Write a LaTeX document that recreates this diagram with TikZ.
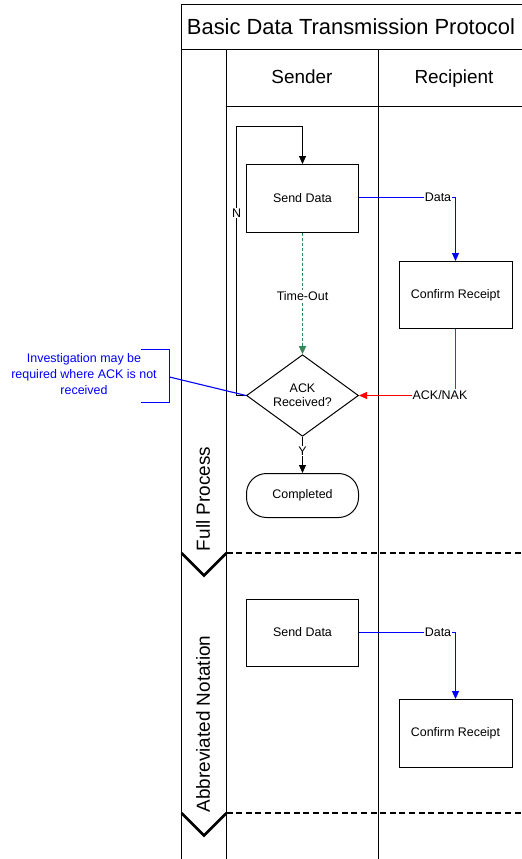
\documentclass[tikz,border=0pt]{standalone}
\usepackage{fontspec}
\setmainfont{Liberation Sans}
\usetikzlibrary{arrows.meta,shapes.geometric}
\definecolor{lnblue}{RGB}{0,0,255}
\definecolor{lnred}{RGB}{255,0,0}
\definecolor{lngreen}{RGB}{46,139,87}
\begin{document}
\begin{tikzpicture}[x=1bp,y=-1bp,
  frame/.style={draw=black,line width=1bp},
  box/.style={draw=black,line width=1bp,minimum width=112bp,minimum height=68bp,font=\fontsize{12.5}{15}\selectfont,align=center,inner sep=0pt},
  lbl/.style={fill=white,inner sep=1pt,font=\fontsize{12.5}{15}\selectfont},
  hdr/.style={font=\fontsize{19}{22}\selectfont,inner sep=0pt},
  conn/.style={line width=1.1bp},
  tip/.style={-{Triangle[length=8bp,width=7bp]}},
  sepline/.style={line width=2.6bp,dash pattern=on 6bp off 3.6bp},
  chev/.style={line width=2.6bp,line join=miter}
]
\useasboundingbox (0,0) rectangle (522,859);
% frame
\draw[frame] (181.5,859) -- (181.5,4.5) -- (523,4.5);
\draw[frame] (181.5,49.5) -- (523,49.5);
\draw[frame] (226.5,49.5) -- (226.5,860);
\draw[frame] (378.5,49.5) -- (378.5,860);
\draw[frame] (226.5,106.5) -- (523,106.5);
\node[font=\fontsize{22}{26}\selectfont,inner sep=0pt] (title) at (351,26.5) {Basic Data Transmission Protocol};
\node[hdr,anchor=base] (hs) at (302,83) {Sender};
\node[hdr,anchor=base] (hr) at (454,83) {Recipient};
% phase labels
\node[hdr,rotate=90] (ph1) at (203,499) {Full Process};
\node[hdr,rotate=90] (ph2) at (203,724) {Abbreviated Notation};
% separators
\coordinate (s1a) at (226.5,553);
\coordinate (s1b) at (523,553);
\coordinate (s2a) at (226.5,813);
\coordinate (s2b) at (523,813);
\draw[sepline] (s1a) -- (s1b);
\draw[sepline] (s2a) -- (s2b);
\coordinate (c1l) at (181.5,553);
\coordinate (c1m) at (204,575.5);
\coordinate (c2l) at (181.5,813);
\coordinate (c2m) at (204,835.5);
\draw[chev] (c1l) -- (c1m) -- (s1a);
\draw[chev] (c2l) -- (c2m) -- (s2a);
% full process nodes
\node[box] (sd1) at (302.5,198.5) {Send Data};
\node[box,minimum width=113bp,minimum height=67bp] (cr1) at (455.5,295) {Confirm Receipt};
\node[draw=black,line width=1bp,shape=diamond,minimum width=112bp,minimum height=66bp,inner sep=0pt,align=center,font=\fontsize{12.5}{15}\selectfont] (ack) at (302.5,395.5) {ACK\\[-1pt]Received?};
\node[draw=black,line width=1bp,rounded corners=20bp,minimum width=112bp,minimum height=44bp,inner sep=0pt,font=\fontsize{12.5}{15}\selectfont] (done) at (302.5,495.5) {Completed};
% connectors
\coordinate (loopA) at (236.5,395.5);
\coordinate (loopB) at (236.5,126.5);
\coordinate (loopC) at (302.5,126.5);
\draw[conn,tip] (ack.west) -- (loopA) -- (loopB) -- (loopC) -- (sd1.north);
\node[lbl] (nlab) at (236.5,213) {N};
\coordinate (d1) at (455.5,197.5);
\draw[conn,draw=lnblue,-{Triangle[length=8bp,width=7bp,fill=lnblue]}] (sd1.east |- d1) -- (d1) -- (cr1.north);
\node[lbl] (dlab1) at (438,197) {Data};
\draw[conn,draw=lngreen,dash pattern=on 3bp off 2bp,-{Triangle[length=8bp,width=7bp,fill=lngreen]}] (sd1.south) -- (ack.north);
\node[lbl] (tlab) at (302.5,296) {Time-Out};
\coordinate (a1) at (455.5,395.5);
\draw[conn,draw=lnred,-{Triangle[length=8bp,width=7bp,fill=lnred]}] (cr1.south) -- (a1) -- (ack.east);
\node[lbl] (alab) at (440,395) {ACK/NAK};
\draw[conn,tip] (ack.south) -- (done.north);
\node[lbl] (ylab) at (302.5,451) {Y};
% annotation
\node[text=lnblue,align=center,font=\fontsize{12.5}{16}\selectfont,inner sep=0pt] (note) at (84,374) {Investigation may be\\required where ACK is not\\received};
\coordinate (brA) at (141,349.5);
\coordinate (brB) at (169.5,349.5);
\coordinate (brC) at (169.5,402.5);
\coordinate (brD) at (141,402.5);
\coordinate (brM) at (169.5,377);
\draw[conn,draw=lnblue] (brA) -- (brB) -- (brC) -- (brD);
\draw[conn,draw=lnblue] (brM) -- (ack.west);
% abbreviated notation
\node[box,minimum height=67bp] (sd2) at (302.5,632.5) {Send Data};
\node[box,minimum width=113bp] (cr2) at (455.5,733.5) {Confirm Receipt};
\coordinate (d2) at (455.5,632.5);
\draw[conn,draw=lnblue,-{Triangle[length=8bp,width=7bp,fill=lnblue]}] (sd2.east) -- (d2) -- (cr2.north);
\node[lbl] (dlab2) at (438,632) {Data};
\end{tikzpicture}
\end{document}
